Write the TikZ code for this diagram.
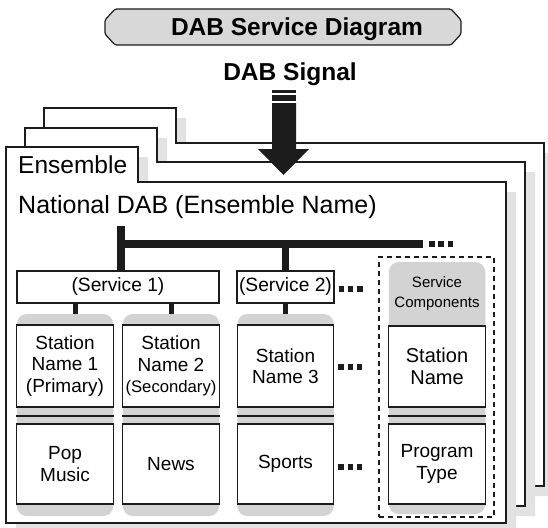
\documentclass[tikz,border=0pt]{standalone}
\usepackage{fontspec}
\setmainfont{Liberation Sans}
\usetikzlibrary{calc}
\definecolor{shadowgray}{HTML}{E2E2E2}
\definecolor{colgray}{HTML}{D3D3D3}
\definecolor{titlegray}{HTML}{D8D8D8}
\definecolor{ink}{HTML}{1C1C1C}
\newcommand\dabpage[6]{(#1,#2) -- (#3,#2) -- (#3,#4) -- (#5,#4) -- (#5,#6) -- (#1,#6) -- cycle}
\begin{document}
\begin{tikzpicture}[x=1pt,y=-1pt,
  pageline/.style={draw=ink,line width=2.6pt,fill=white,line join=miter},
  pageshadow/.style={fill=shadowgray,draw=none},
  boldfont/.style={font=\bfseries\fontsize{24.5}{29}\selectfont},
  svbox/.style={draw=ink,line width=1.2pt,fill=white,inner sep=0pt,minimum height=32pt,font=\fontsize{19.2}{23}\selectfont},
  stbox/.style={draw=ink,line width=1.2pt,fill=white,inner sep=0pt,minimum width=96.5pt,align=center,font=\fontsize{19}{21.5}\selectfont},
  colbg/.style={fill=colgray,draw=none,rounded corners=10pt,minimum width=96.5pt,inner sep=0pt},
  bus/.style={draw=ink,line width=7.5pt},
  stub/.style={draw=ink,line width=5pt},
  ellip/.style={draw=ink,line width=6pt,dash pattern=on 5.5pt off 3.8pt},
  bandline/.style={draw=ink,line width=2pt},
  dashbox/.style={draw=ink,line width=1.6pt,dash pattern=on 5pt off 4pt,inner sep=0pt}
]
\useasboundingbox (0,0) rectangle (548,527);
\fill[white] (0,0) rectangle (548,527);

% title
\draw[fill=titlegray,draw=ink,line width=1.2pt,rounded corners=1.5pt]
  (115,9) -- (451,9) -- (461,20) -- (461,34) -- (451,45) -- (115,45) -- (105,34) -- (105,20) -- cycle;
\node[boldfont,anchor=base,inner sep=0pt] (title) at (297,35.5) {DAB Service Diagram};
\node[boldfont,anchor=base,inner sep=0pt] (signal) at (290,80) {DAB Signal};

% pages
\fill[pageshadow,shift={(10,10)}] \dabpage{44}{108}{176}{143}{544}{486};
\draw[pageline] \dabpage{44}{108}{176}{143}{544}{486};
\fill[pageshadow,shift={(10,10)}] \dabpage{25}{128}{157}{162}{525}{506};
\draw[pageline] \dabpage{25}{128}{157}{162}{525}{506};
\fill[pageshadow,shift={(10,10)}] \dabpage{6}{147}{138}{182}{506}{523};
\draw[pageline] \dabpage{6}{147}{138}{182}{506}{523};

% arrow
\fill[ink] (272,90) rectangle (296,92.7);
\fill[ink] (272,95) rectangle (296,100.7);
\fill[ink] (272,103) -- (296,103) -- (296,149) -- (309,149) -- (283.5,175) -- (258,149) -- (272,149) -- cycle;

\node[anchor=base west,inner sep=0pt,font=\fontsize{24.5}{29}\selectfont] (ens) at (18,173) {Ensemble};
\node[anchor=base west,inner sep=0pt,font=\fontsize{25}{30}\selectfont] (nat) at (18,213) {National DAB (Ensemble Name)};

% services
\node[svbox,minimum width=202pt] (sv1) at (118,287) {(Service 1)};
\node[svbox,minimum width=97pt] (sv2) at (285.5,287) {(Service 2)};

% bus
\coordinate (trunk) at (121,226);
\coordinate (busend) at (423,244);
\draw[bus] (trunk) -- (trunk |- sv1.north);
\draw[bus] (trunk |- busend) -- (busend);
\draw[bus] (sv2.north) -- (sv2.north |- busend);
\draw[ellip] ([xshift=6pt]busend) -- ++(24.1,0);
\draw[ellip,line width=5.5pt] ([xshift=4pt,yshift=-2pt]sv2.east) -- ++(24.1,0);

% component frame
\node[dashbox,minimum width=115pt,minimum height=260pt] (comp) at (436.5,387) {};

% columns
\node[colbg,minimum height=202pt] (bg1) at (65,415) {};
\node[colbg,minimum height=202pt] (bg2) at (171,415) {};
\node[colbg,minimum height=202pt] (bg3) at (285.5,415) {};
\node[colbg,minimum height=252pt] (bg4) at (437,388) {};

\node[stbox,minimum height=82pt] (up1) at (65,366) {Station\\Name 1\\(Primary)};
\node[stbox,minimum height=82pt] (up2) at (171,366) {Station\\Name 2\\{\fontsize{16.7}{20}\selectfont(Secondary)}};
\node[stbox,minimum height=82pt] (up3) at (285.5,366) {Station\\Name 3};
\node[stbox,minimum height=81pt,font=\fontsize{20}{22}\selectfont] (up4) at (437,366.5) {Station\\Name};

\node[stbox,minimum height=80pt] (lo1) at (65,464) {Pop\\Music};
\node[stbox,minimum height=80pt] (lo2) at (171,464) {News};
\node[stbox,minimum height=80pt] (lo3) at (285.5,464) {Sports};
\node[stbox,minimum height=80pt] (lo4) at (437,464) {Program\\Type};

\node[align=center,inner sep=0pt,font=\fontsize{15}{20}\selectfont] (svc) at (437,294) {Service\\Components};

\foreach \i in {1,2,3,4}{
  \draw[bandline] ([yshift=-8.5pt]up\i.south west) -- ([yshift=-8.5pt]up\i.south east);
}

% stubs
\coordinate (c1) at ([xshift=10.5pt]bg1.north);
\draw[stub] (c1) -- (c1 |- sv1.south);
\draw[stub] (bg2.north) -- (bg2.north |- sv1.south);
\draw[stub] (bg3.north) -- (bg3.north |- sv2.south);

\draw[ellip,line width=5.5pt] ([xshift=4pt,yshift=-1pt]up3.east) -- ++(24.1,0);
\draw[ellip,line width=5.5pt] ([xshift=4pt,yshift=-3pt]lo3.east) -- ++(24.1,0);
\end{tikzpicture}
\end{document}
